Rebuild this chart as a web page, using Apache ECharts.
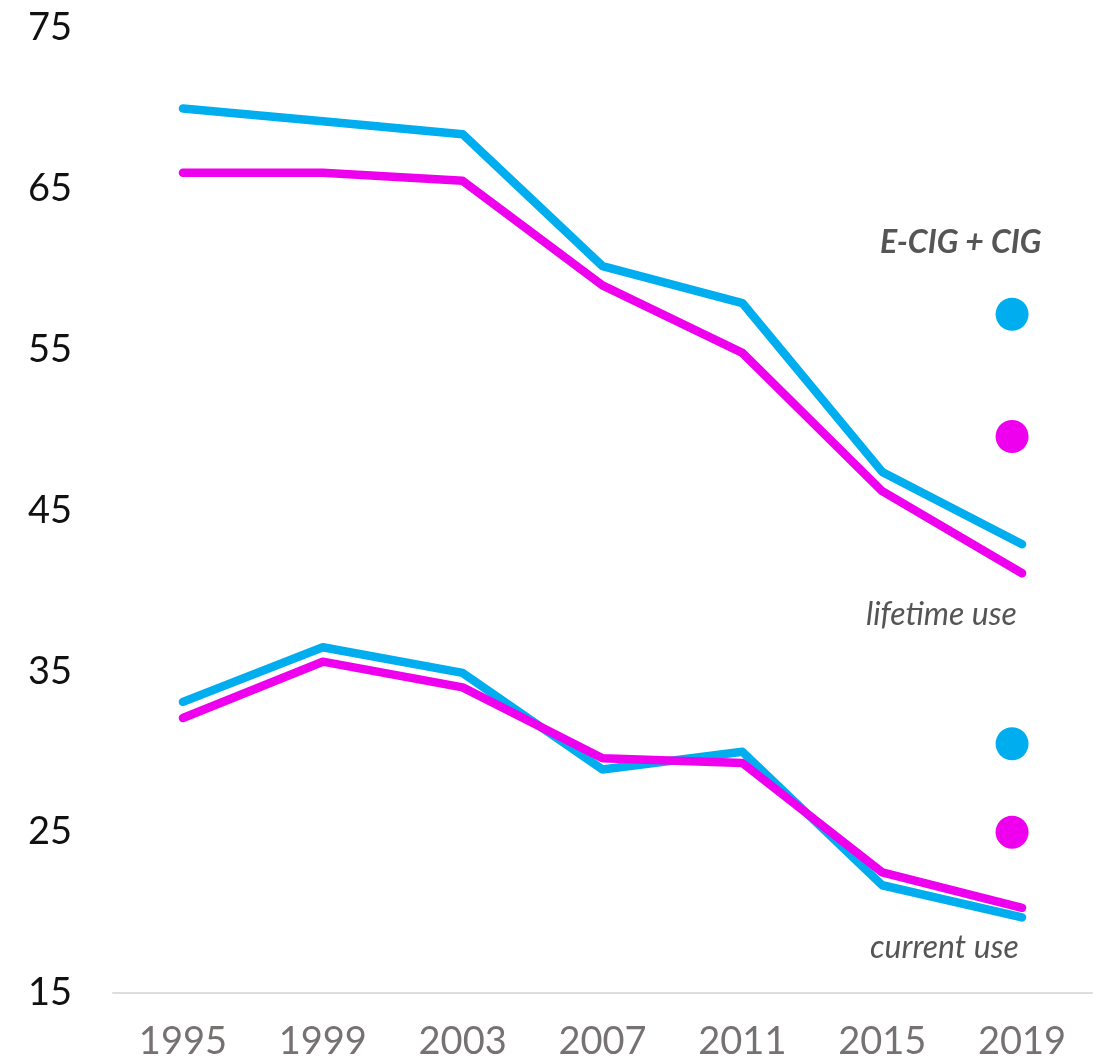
<!DOCTYPE html>
<html lang="en">
<head>
  <meta charset="UTF-8" />
  <title>E-CIG + CIG</title>
  <script src="https://cdn.jsdelivr.net/npm/echarts@6/dist/echarts.min.js"></script>
  <style>
    html, body { margin: 0; padding: 0; background: #fff; }
  </style>
</head>
<body>
  <div id="main" style="width:1099px; height:1064px;"></div>
  <script type="text/javascript">
    // data
    const years = ['1995', '1999', '2003', '2007', '2011', '2015', '2019'];
    const lifetimeBlue    = [70.0, 69.2, 68.4, 60.2, 57.9, 47.4, 42.9];
    const lifetimePink    = [66.0, 66.0, 65.5, 59.0, 54.8, 46.2, 41.1];
    const currentBlue     = [33.1, 36.5, 34.9, 28.9, 30.0, 21.7, 19.7];
    const currentPink     = [32.1, 35.6, 34.0, 29.6, 29.3, 22.5, 20.3];
    // E-CIG + CIG points for 2019
    const comboBlue = [57.2, 30.5];
    const comboPink = [49.6, 25.0];

    const blue = '#00aeef';
    const pink = '#ee00ee';
    const font = 'Lato, "Open Sans", sans-serif';

    function lineSeries(name, data, color) {
      return {
        name: name,
        type: 'line',
        data: data,
        symbol: 'none',
        silent: true,
        lineStyle: { width: 8.5, color: color, cap: 'round', join: 'round' },
        z: color === pink ? 3 : 2
      };
    }

    function dotSeries(name, vals, color) {
      return {
        name: name,
        type: 'scatter',
        data: vals.map(v => ['2019', v]),
        symbol: 'circle',
        symbolSize: 33,
        symbolOffset: [-10, 0],
        silent: true,
        itemStyle: { color: color, opacity: 1 },
        z: 4
      };
    }

    const chart = echarts.init(document.getElementById('main'));
    chart.setOption({
      animation: false,
      backgroundColor: '#fff',
      grid: { left: 113, right: 7, top: 28, bottom: 71, containLabel: false },
      xAxis: {
        type: 'category',
        data: years,
        boundaryGap: true,
        axisLine: { show: true, lineStyle: { color: '#dddddd', width: 2 } },
        axisTick: { show: false },
        axisLabel: { color: '#777272', fontSize: 38, fontFamily: font, margin: 30 }
      },
      yAxis: {
        type: 'value',
        min: 15,
        max: 75,
        interval: 10,
        splitLine: { show: false },
        axisLine: { show: false },
        axisTick: { show: false },
        axisLabel: { color: '#111', fontSize: 38, fontFamily: font, margin: 41 }
      },
      graphic: [
        { type: 'text', left: 880, top: 227,
          style: { text: 'E-CIG + CIG', font: 'italic bold 32px ' + font, fill: '#555' } },
        { type: 'text', left: 866, top: 599,
          style: { text: 'lifetime use', font: 'italic 32px ' + font, fill: '#555' } },
        { type: 'text', left: 870, top: 932,
          style: { text: 'current use', font: 'italic 32px ' + font, fill: '#555' } }
      ],
      series: [
        lineSeries('lifetime e-cig', lifetimeBlue, blue),
        lineSeries('lifetime cig', lifetimePink, pink),
        lineSeries('current e-cig', currentBlue, blue),
        lineSeries('current cig', currentPink, pink),
        dotSeries('combo blue', comboBlue, blue),
        dotSeries('combo pink', comboPink, pink)
      ]
    });
  </script>
</body>
</html>
